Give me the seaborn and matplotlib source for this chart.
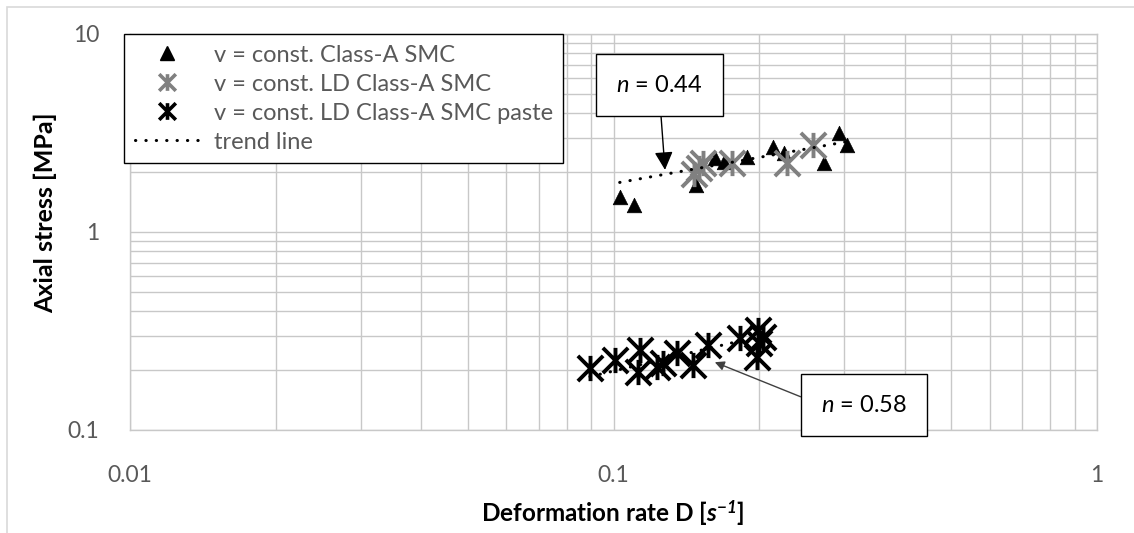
import matplotlib
matplotlib.use("Agg")
import matplotlib.pyplot as plt
import seaborn as sns
import numpy as np
import pandas as pd
from matplotlib.path import Path
from matplotlib.lines import Line2D
from matplotlib.patches import Rectangle

# ---------------- data ----------------
tri_x = [0.103, 0.110, 0.148, 0.162, 0.169, 0.189, 0.214, 0.225, 0.272, 0.292, 0.304]
tri_y = [1.50, 1.37, 1.73, 2.36, 2.27, 2.40, 2.70, 2.50, 2.22, 3.15, 2.75]

ld_x = [0.147, 0.150, 0.153, 0.176, 0.229, 0.259]
ld_y = [1.97, 2.10, 2.22, 2.24, 2.22, 2.75]

paste_x = [0.0894, 0.1007, 0.1134, 0.1126, 0.1228, 0.1266, 0.135, 0.146,
           0.157, 0.1827, 0.1993, 0.2003, 0.1977, 0.2035]
paste_y = [0.205, 0.226, 0.254, 0.197, 0.209, 0.217, 0.244, 0.213,
           0.269, 0.290, 0.320, 0.274, 0.235, 0.296]

trend_hi_x = [0.103, 0.304]
trend_hi_y = [1.78, 2.86]
trend_lo_x = [0.0894, 0.2035]
trend_lo_y = [0.186, 0.300]

series_labels = ["v = const. Class-A SMC", "v = const. LD Class-A SMC",
                 "v = const. LD Class-A SMC paste", "trend line"]
x_ticks = [0.01, 0.1, 1]
x_ticklabels = ["0.01", "0.1", "1"]
y_ticks = [0.1, 1, 10]
y_ticklabels = ["0.1", "1", "10"]
ann_texts = ["$n$ = 0.44", "$n$ = 0.58"]

# ---------------- style ----------------
sns.set_theme(style="white")
plt.rcParams["font.family"] = ["Lato", "DejaVu Sans"]
plt.rcParams["mathtext.fontset"] = "custom"
plt.rcParams["mathtext.rm"] = "Lato"
plt.rcParams["mathtext.it"] = "Lato:italic"
plt.rcParams["mathtext.bf"] = "Lato:bold:italic"

W, H = 1134, 533
fig = plt.figure(figsize=(W / 100, H / 100), dpi=100)
L, R, T, B = 130, 1097, 34, 430
ax = fig.add_axes([L / W, 1 - B / H, (R - L) / W, (B - T) / H])

# outer light frame
fig.patches.append(Rectangle((7 / W, -0.1), 1.2, 1 - 7 / H + 0.1, transform=fig.transFigure,
                             fill=False, edgecolor="#d9d9d9", linewidth=1.2, zorder=0))

# asterisk marker (vertical bar + X)
ast = Path([(0, -1), (0, 1), (-1, -1), (1, 1), (-1, 1), (1, -1)],
           [Path.MOVETO, Path.LINETO, Path.MOVETO, Path.LINETO, Path.MOVETO, Path.LINETO])

df_tri = pd.DataFrame({"x": tri_x, "y": tri_y})
df_ld = pd.DataFrame({"x": ld_x, "y": ld_y})
df_paste = pd.DataFrame({"x": paste_x, "y": paste_y})

sns.scatterplot(data=df_tri, x="x", y="y", marker="^", s=110, color="black",
                edgecolor="black", linewidth=0.5, ax=ax, zorder=3)
sns.scatterplot(data=df_ld, x="x", y="y", marker=ast, s=330, color="#808080",
                edgecolor="#808080", linewidth=2.8, ax=ax, zorder=4)
sns.scatterplot(data=df_paste, x="x", y="y", marker=ast, s=330, color="black",
                edgecolor="black", linewidth=2.8, ax=ax, zorder=4)

dot_style = (0, (0.1, 3.3))
sns.lineplot(x=trend_hi_x, y=trend_hi_y, ax=ax, color="black", linewidth=2.2,
             linestyle=dot_style, zorder=5)
sns.lineplot(x=trend_lo_x, y=trend_lo_y, ax=ax, color="black", linewidth=2.2,
             linestyle=dot_style, zorder=5)
for ln in ax.lines:
    ln.set_dash_capstyle("round")

ax.set_xscale("log")
ax.set_yscale("log")
ax.set_xlim(0.01, 1)
ax.set_ylim(0.1, 10)

ax.set_xticks(x_ticks)
ax.set_xticklabels(x_ticklabels)
ax.set_yticks(y_ticks)
ax.set_yticklabels(y_ticklabels)
ax.xaxis.set_minor_locator(matplotlib.ticker.LogLocator(base=10, subs=np.arange(2, 10)))
ax.yaxis.set_minor_locator(matplotlib.ticker.LogLocator(base=10, subs=np.arange(2, 10)))
ax.xaxis.set_minor_formatter(matplotlib.ticker.NullFormatter())
ax.yaxis.set_minor_formatter(matplotlib.ticker.NullFormatter())
ax.tick_params(axis="both", which="both", length=0, labelsize=16.5, labelcolor="#595959")
ax.tick_params(axis="x", pad=25)
ax.tick_params(axis="y", pad=22)

ax.grid(True, which="both", axis="both", color="#c8c8c8", linewidth=1.0)
ax.set_axisbelow(True)
for sp in ax.spines.values():
    sp.set_color("#c8c8c8")
    sp.set_linewidth(1.0)

ax.set_xlabel("")
ax.set_ylabel("")
fig.text(613 / W, 1 - 513 / H, r"Deformation rate D [$\mathbf{s}^{\mathbf{-1}}$]", ha="center", va="center",
         fontsize=17.5, fontweight="bold", color="black")
fig.text(45 / W, 1 - 213 / H, "Axial stress [MPa]", ha="center", va="center",
         rotation=90, fontsize=18, fontweight="bold", color="black")

# legend
handles = [
    Line2D([], [], marker="^", linestyle="none", color="black", markersize=10),
    Line2D([], [], marker=ast, linestyle="none", color="#808080", markersize=12, markeredgewidth=2.6),
    Line2D([], [], marker=ast, linestyle="none", color="black", markersize=12, markeredgewidth=2.6),
    Line2D([], [], color="black", linewidth=2.2, linestyle=dot_style, dash_capstyle="round"),
]
leg = ax.legend(handles, series_labels, loc="upper left",
                bbox_to_anchor=(124 / W, 1 - 34 / H), bbox_transform=fig.transFigure,
                borderaxespad=0, frameon=True, fancybox=False, framealpha=1,
                edgecolor="black", fontsize=17, labelcolor="#595959",
                handlelength=2.75, handletextpad=0.6, labelspacing=0.34, borderpad=0.45)
leg.get_frame().set_linewidth(1.0)
leg.set_zorder(10)

# annotations
def figpx(x, y):
    return (x, H - y)

ax.annotate(ann_texts[0], xy=(0.1278, 2.06), xycoords="data",
            xytext=figpx(659.5, 85), textcoords="figure pixels",
            ha="center", va="center", fontsize=17, color="black",
            bbox=dict(boxstyle="square,pad=0.85", facecolor="white", edgecolor="black", linewidth=1.0),
            arrowprops=dict(arrowstyle="-|>,head_length=0.55,head_width=0.28", mutation_scale=20,
                            color="black", linewidth=1.0, relpos=(0.5, 0), shrinkA=0, shrinkB=0),
            zorder=11)
ax.annotate(ann_texts[1], xy=(0.162, 0.220), xycoords="data",
            xytext=figpx(864, 405), textcoords="figure pixels",
            ha="center", va="center", fontsize=17, color="black",
            bbox=dict(boxstyle="square,pad=0.85", facecolor="white", edgecolor="black", linewidth=1.0),
            arrowprops=dict(arrowstyle="-|>,head_length=0.4,head_width=0.2", mutation_scale=14,
                            color="#404040", linewidth=1.0, relpos=(0, 0.5), shrinkA=0, shrinkB=0),
            zorder=11, annotation_clip=False)

fig.savefig("out.png", dpi=100)
